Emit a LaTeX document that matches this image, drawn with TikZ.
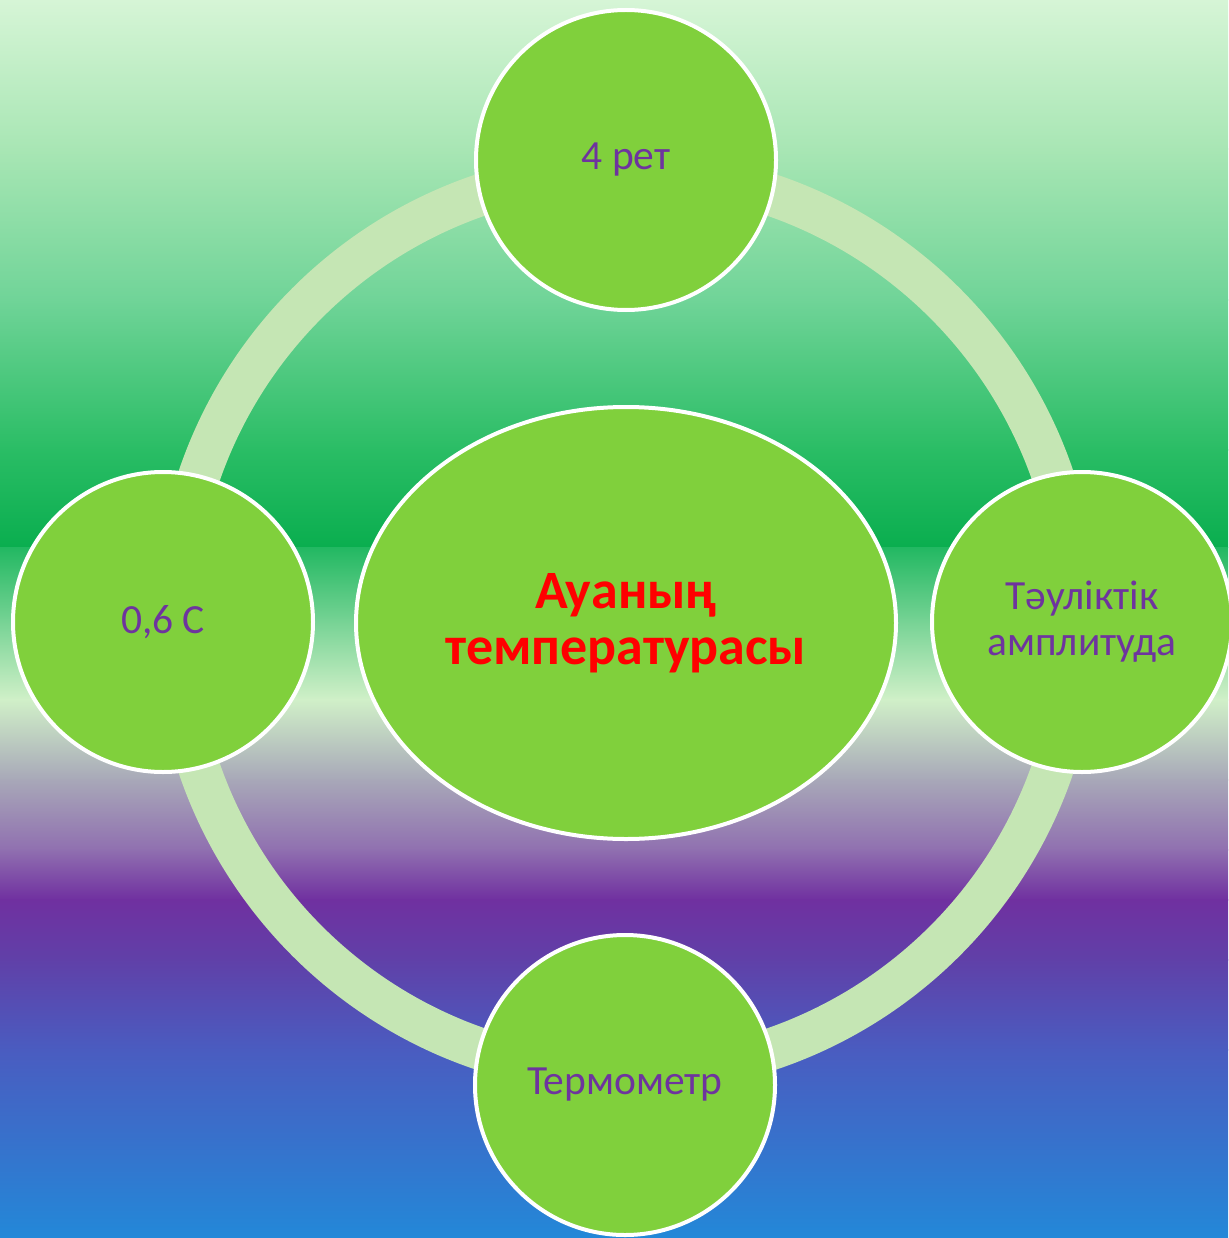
\documentclass[tikz,border=0pt]{standalone}
\usepackage{fontspec}
\setmainfont{Carlito}
\usetikzlibrary{shapes.geometric}
\definecolor{bg0}{HTML}{D6F5D6}
\definecolor{bg1}{HTML}{A8E6B4}
\definecolor{bg2}{HTML}{70D498}
\definecolor{bg3}{HTML}{2ABD65}
\definecolor{bg4}{HTML}{0AAE4F}
\definecolor{bg5}{HTML}{22B862}
\definecolor{bg6}{HTML}{74D293}
\definecolor{bg7}{HTML}{D0F0C8}
\definecolor{bg8}{HTML}{A8A8B8}
\definecolor{bg9}{HTML}{9070B0}
\definecolor{bg10}{HTML}{7030A0}
\definecolor{bg11}{HTML}{6040A8}
\definecolor{bg12}{HTML}{4A5CC0}
\definecolor{bg13}{HTML}{2388D8}
\definecolor{ringc}{HTML}{C5E6B4}
\definecolor{fillc}{HTML}{80D03C}
\definecolor{txtp}{HTML}{6E349E}
\tikzset{
  band/.style={draw=none},
  ringstyle/.style={draw=ringc, line width=42pt},
  bubble/.style={circle, fill=fillc, draw=white, line width=4pt, minimum size=300pt, inner sep=0pt,
     align=center, text=txtp, font=\fontsize{41.5}{46}\selectfont},
  hub/.style={ellipse, fill=fillc, draw=white, line width=4pt, minimum width=540pt, minimum height=432pt,
     inner sep=0pt, align=center, text=red, font=\bfseries\fontsize{54}{56}\selectfont}
}
\begin{document}
\begin{tikzpicture}[x=1pt,y=-1pt]
\useasboundingbox (0,0) rectangle (1228,1238);
% background gradient bands
\shade[band, top color=bg0, bottom color=bg1] (0,0) rectangle (1228,150);
\shade[band, top color=bg1, bottom color=bg2] (0,149) rectangle (1228,300);
\shade[band, top color=bg2, bottom color=bg3] (0,299) rectangle (1228,450);
\shade[band, top color=bg3, bottom color=bg4] (0,449) rectangle (1228,547);
\shade[band, top color=bg5, bottom color=bg6] (0,547) rectangle (1228,620);
\shade[band, top color=bg6, bottom color=bg7] (0,619) rectangle (1228,700);
\shade[band, top color=bg7, bottom color=bg8] (0,699) rectangle (1228,780);
\shade[band, top color=bg8, bottom color=bg9] (0,779) rectangle (1228,850);
\shade[band, top color=bg9, bottom color=bg10] (0,849) rectangle (1228,900);
\shade[band, top color=bg10, bottom color=bg11] (0,899) rectangle (1228,960);
\shade[band, top color=bg11, bottom color=bg12] (0,959) rectangle (1228,1050);
\shade[band, top color=bg12, bottom color=bg13] (0,1049) rectangle (1228,1238);
% ring
\coordinate (ctr) at (626,622);
\draw[ringstyle] (ctr) circle[radius=451];
% hub
\node[hub] (hub) at (626,623) {Ауаның\\температурасы};
% satellites
\node[bubble] (top) at (626,160) {4 рет};
\node[bubble] (left) at (163,622) {0,6 С};
\node[bubble] (right) at (1082,622) {Тәуліктік\\амплитуда};
\node[bubble] (bottom) at (625,1085) {Термометр};
\end{tikzpicture}
\end{document}
